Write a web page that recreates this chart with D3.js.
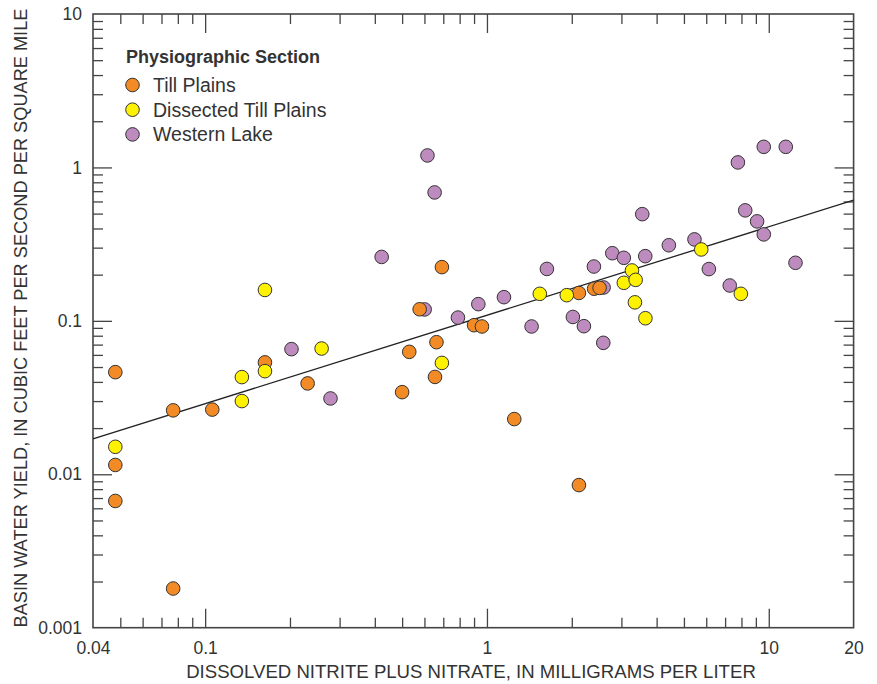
<!DOCTYPE html>
<html lang="en">
<head>
<meta charset="utf-8">
<title>Basin water yield and dissolved nitrite plus nitrate</title>
<script src="https://cdn.jsdelivr.net/npm/d3@7"></script>
<style>
  body { margin: 0; background: #fff; }
  svg text { font-family: "Liberation Sans", Arial, sans-serif; fill: #333; }
</style>
</head>
<body>
<script>

// Till Plains (orange)
var tillX = [0.048, 0.048, 0.048, 0.077, 0.077, 0.106, 0.163, 0.231, 0.50, 0.53, 0.577,
             0.692, 0.662, 0.654, 0.90, 0.96, 1.25, 2.12, 2.12, 2.40, 2.51];
var tillY = [0.0463, 0.0115, 0.0067, 0.0018, 0.0261, 0.0264, 0.0536, 0.0391, 0.0343, 0.0628, 0.119,
             0.224, 0.0726, 0.0431, 0.0937, 0.0919, 0.0229, 0.0085, 0.152, 0.162, 0.164];

// Dissected Till Plains (yellow)
var dissX = [0.048, 0.135, 0.135, 0.163, 0.163, 0.259, 0.692, 1.54, 1.92, 3.06, 3.27,
             3.37, 3.35, 3.65, 5.76, 7.96];
var dissY = [0.0151, 0.043, 0.030, 0.159, 0.047, 0.066, 0.0532, 0.150, 0.147, 0.177, 0.213,
             0.185, 0.132, 0.104, 0.292, 0.150];

// Western Lake (purple)
var westX = [0.2025, 0.2785, 0.423, 0.615, 0.652, 0.601, 0.789, 0.932, 1.149, 1.44, 1.632,
             2.018, 2.208, 2.396, 2.594, 2.587, 2.785, 3.06, 3.557, 3.645, 4.42, 5.45,
             6.13, 7.27, 7.77, 9.60, 11.49, 8.25, 9.09, 9.60, 12.44];
var westY = [0.0654, 0.0312, 0.261, 1.197, 0.687, 0.1187, 0.105, 0.1285, 0.1427, 0.0919, 0.218,
             0.106, 0.0923, 0.226, 0.165, 0.0719, 0.276, 0.2575, 0.496, 0.264, 0.311, 0.3395,
             0.2175, 0.170, 1.078, 1.362, 1.362, 0.525, 0.445, 0.366, 0.239];

// fitted line end points
var fitX = [0.04, 20];
var fitY = [0.017, 0.612];

var xLabels = [0.04, 0.1, 1, 10, 20];
var yLabels = [0.001, 0.01, 0.1, 1, 10];

var seriesNames = ["Till Plains", "Dissected Till Plains", "Western Lake"];
var seriesColors = ["#f28b25", "#fff200", "#bd8bbe"];

var w = 877, h = 684;
var margin = {top: 14, right: 23.4, bottom: 56.3, left: 93};
var iw = w - margin.left - margin.right;
var ih = h - margin.top - margin.bottom;

var svg = d3.select("body").append("svg")
    .attr("width", w)
    .attr("height", h);

var g = svg.append("g")
    .attr("transform", "translate(" + margin.left + "," + margin.top + ")");

var x = d3.scaleLog().domain([0.04, 20]).range([0, iw]);
var y = d3.scaleLog().domain([0.001, 10]).range([ih, 0]);

function isMajor(v) {
  var l = Math.log10(v);
  return Math.abs(l - Math.round(l)) < 1e-9;
}

var xMinor = x.ticks().filter(function(d) { return !isMajor(d) && d > 0.04 && d < 20; });
var xMajor = x.ticks().filter(isMajor);
var yMinor = y.ticks().filter(function(d) { return !isMajor(d); });
var yMajor = y.ticks().filter(function(d) { return isMajor(d) && d > 0.001 && d < 10; });

var majorLen = 19, minorLen = 10;

function tickAxis(axisFn, scale, vals, len, transform) {
  var a = g.append("g")
    .attr("class", "ticks")
    .attr("transform", transform || null)
    .call(axisFn(scale).tickValues(vals).tickSize(-len).tickFormat(""));
  a.select(".domain").remove();
  a.selectAll("line").attr("stroke", "#444").attr("stroke-width", 1.3);
}

// inward ticks on all four sides
tickAxis(d3.axisBottom, x, xMinor, minorLen, "translate(0," + ih + ")");
tickAxis(d3.axisBottom, x, xMajor, majorLen, "translate(0," + ih + ")");
tickAxis(d3.axisTop, x, xMinor, minorLen);
tickAxis(d3.axisTop, x, xMajor, majorLen);
tickAxis(d3.axisLeft, y, yMinor, minorLen);
tickAxis(d3.axisLeft, y, yMajor, majorLen);
tickAxis(d3.axisRight, y, yMinor, minorLen, "translate(" + iw + ",0)");
tickAxis(d3.axisRight, y, yMajor, majorLen, "translate(" + iw + ",0)");

// tick labels
var xl = g.append("g")
    .attr("transform", "translate(0," + ih + ")")
    .call(d3.axisBottom(x).tickValues(xLabels).tickSize(0).tickPadding(14)
      .tickFormat(function(d) { return String(d); }));
xl.select(".domain").remove();
xl.selectAll("text").style("font-size", "17.5px").attr("fill", "#333");

var yl = g.append("g")
    .call(d3.axisLeft(y).tickValues(yLabels).tickSize(0).tickPadding(11)
      .tickFormat(function(d) { return String(d); }));
yl.select(".domain").remove();
yl.selectAll("text").style("font-size", "17.5px").attr("fill", "#333");

// frame
g.append("rect")
    .attr("width", iw)
    .attr("height", ih)
    .attr("fill", "none")
    .attr("stroke", "#444")
    .attr("stroke-width", 1.6);

// regression line
var line = d3.line()
    .x(function(d) { return x(d[0]); })
    .y(function(d) { return y(d[1]); });

g.append("path")
    .datum(d3.zip(fitX, fitY))
    .attr("d", line)
    .attr("fill", "none")
    .attr("stroke", "#222")
    .attr("stroke-width", 1.3);

// points: purple first, then orange, then yellow on top
var layers = [
  {xs: westX, ys: westY, c: seriesColors[2]},
  {xs: tillX, ys: tillY, c: seriesColors[0]},
  {xs: dissX, ys: dissY, c: seriesColors[1]}
];

layers.forEach(function(s) {
  g.append("g").selectAll("circle")
    .data(d3.zip(s.xs, s.ys))
    .enter()
    .append("circle")
    .attr("cx", function(d) { return x(d[0]); })
    .attr("cy", function(d) { return y(d[1]); })
    .attr("r", 6.8)
    .attr("fill", s.c)
    .attr("stroke", "#333")
    .attr("stroke-width", 1);
});

// legend
var legend = svg.append("g").attr("transform", "translate(126,63)");
legend.append("text")
    .text("Physiographic Section")
    .style("font-size", "18px")
    .style("font-weight", "bold")
    .attr("fill", "#222");

seriesNames.forEach(function(name, i) {
  var row = legend.append("g").attr("transform", "translate(0," + (22 + i * 24.7) + ")");
  row.append("circle")
    .attr("cx", 6.5)
    .attr("cy", 0)
    .attr("r", 6.8)
    .attr("fill", seriesColors[i])
    .attr("stroke", "#333")
    .attr("stroke-width", 1);
  row.append("text")
    .attr("x", 27)
    .attr("y", 7)
    .text(name)
    .style("font-size", "19.5px")
    .attr("fill", "#333");
});

// axis titles
svg.append("text")
    .attr("x", 471)
    .attr("y", 678)
    .attr("text-anchor", "middle")
    .style("font-size", "18.6px")
    .attr("fill", "#444")
    .text("DISSOLVED NITRITE PLUS NITRATE, IN MILLIGRAMS PER LITER");

svg.append("text")
    .attr("transform", "translate(26.5,318) rotate(-90)")
    .attr("text-anchor", "middle")
    .style("font-size", "18.2px")
    .attr("fill", "#444")
    .text("BASIN WATER YIELD, IN CUBIC FEET PER SECOND PER SQUARE MILE");

</script>
</body>
</html>
